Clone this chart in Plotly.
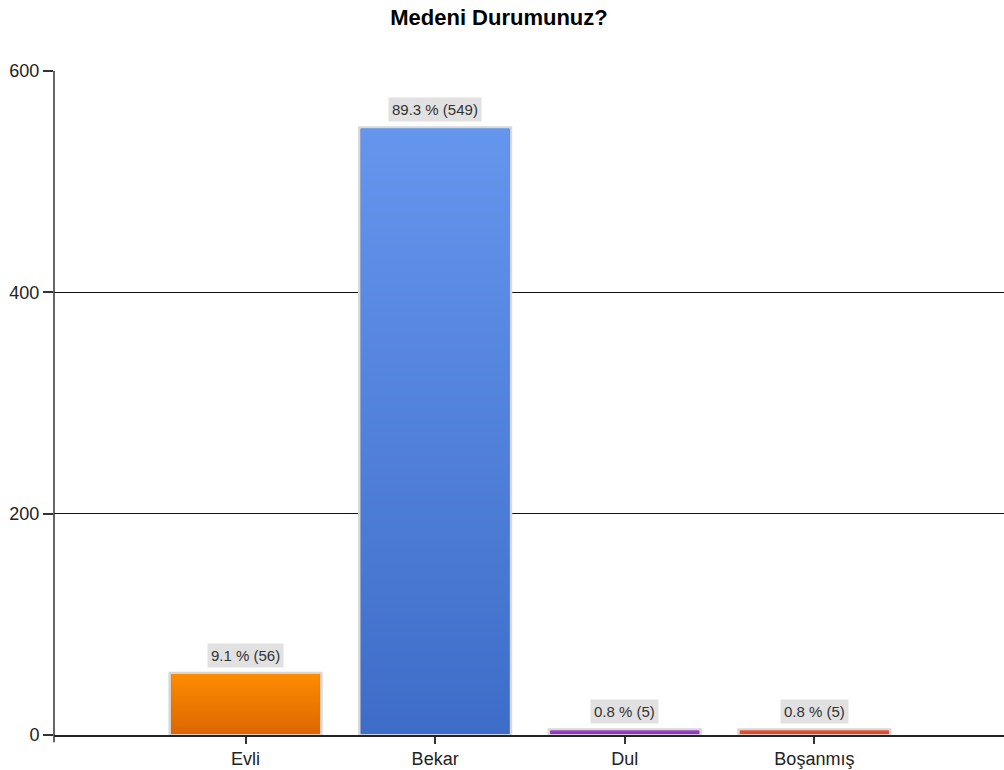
import base64
import plotly.graph_objects as go

# Survey answers: marital status
categories = ["Evli", "Bekar", "Dul", "Boşanmış"]
counts = [56, 549, 5, 5]
percents = [9.1, 89.3, 0.8, 0.8]
bar_top_colors = ["#FF8C00", "#6596EE", "#A444D0", "#EC5530"]
bar_bottom_colors = ["#DC6600", "#3D6DC8", "#8A30B4", "#D84424"]
y_ticks = [0, 200, 400, 600]

labels = [f"{p} % ({c})" for p, c in zip(percents, counts)]

BAR_WIDTH = 0.8
PX_PER_X = 950 / 5.01    # plot width / x span
PX_PER_Y = 664 / 600     # plot height / y span
INSET_PX = 1.4           # keep the light bar outline visible around the gradient


def gradient_svg(top, bottom):
    svg = (
        '<svg xmlns="http://www.w3.org/2000/svg" width="10" height="100" '
        'preserveAspectRatio="none" viewBox="0 0 10 100">'
        '<defs><linearGradient id="g" x1="0" y1="0" x2="0" y2="1">'
        f'<stop offset="0" stop-color="{top}"/>'
        f'<stop offset="1" stop-color="{bottom}"/>'
        '</linearGradient></defs>'
        '<rect width="10" height="100" fill="url(#g)"/></svg>'
    )
    return "data:image/svg+xml;base64," + base64.b64encode(svg.encode()).decode()


fig = go.Figure()
fig.add_trace(go.Bar(
    x=list(range(len(categories))),
    y=counts,
    width=BAR_WIDTH,
    marker=dict(color=bar_bottom_colors, line=dict(color="#D8D8D8", width=2.5)),
    hoverinfo="skip",
))

# vertical gradient fill laid over each bar
images = []
for i, (c, top, bottom) in enumerate(zip(counts, bar_top_colors, bar_bottom_colors)):
    dx = INSET_PX / PX_PER_X
    dy = INSET_PX / PX_PER_Y
    h = max(c - dy, 0.5)
    images.append(dict(
        source=gradient_svg(top, bottom), xref="x", yref="y",
        x=i - BAR_WIDTH / 2 + dx, y=c - dy / 2,
        sizex=BAR_WIDTH - 2 * dx, sizey=h,
        xanchor="left", yanchor="top", sizing="stretch", layer="above",
    ))

for i, (c, lab) in enumerate(zip(counts, labels)):
    fig.add_annotation(
        x=i, y=c, text=lab, showarrow=False,
        yanchor="bottom", yshift=5,
        bgcolor="#E1E1E1", borderpad=3,
        font=dict(family="Liberation Sans, Arial", size=15, color="#333333"),
    )

# y axis line continues slightly below the baseline
fig.add_shape(type="line", xref="paper", yref="paper",
              x0=0, x1=0, y0=-0.011, y1=1,
              line=dict(color="#333333", width=1.5))

fig.update_layout(
    width=1004, height=770,
    margin=dict(l=54, r=0, t=71, b=35),
    paper_bgcolor="white", plot_bgcolor="white",
    showlegend=False,
    images=images,
    title=dict(text="<b>Medeni Durumunuz?</b>", x=0.497, xanchor="center",
               y=0.977, yanchor="middle",
               font=dict(family="Liberation Sans, Arial", size=22, color="black")),
    font=dict(family="Liberation Sans, Arial", size=18, color="#222222"),
    xaxis=dict(
        range=[-1.01, 4], tickvals=list(range(len(categories))), ticktext=categories,
        showgrid=False, zeroline=False, showline=True, linecolor="#222222", linewidth=1.5,
        ticks="outside", ticklen=7, tickcolor="#333333", tickwidth=1.5,
        tickfont=dict(size=18, color="#222222"),
    ),
    yaxis=dict(
        range=[0, 600], tickvals=y_ticks, showgrid=True, gridcolor="#111111", gridwidth=1.2,
        zeroline=False, showline=False,
        ticks="outside", ticklen=10, tickcolor="#333333", tickwidth=1.5,
        tickfont=dict(size=18, color="#222222"),
    ),
)

fig.write_html("out.html")
